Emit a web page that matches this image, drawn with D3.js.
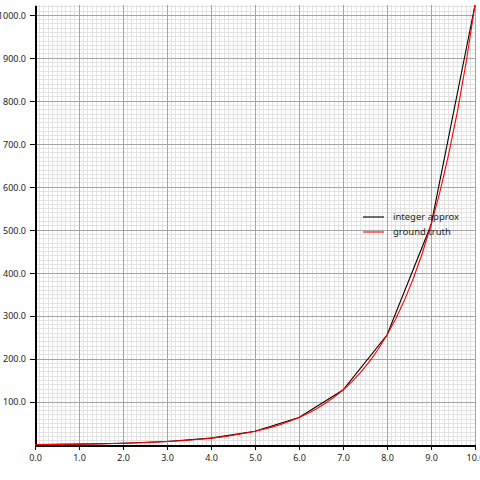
<!DOCTYPE html>
<html>
  <head>
    <title>integer approx vs ground truth</title>
    <style>
body {
  margin: 0px;
  overflow: hidden;
  background: #fff;
}
text {
  font-family: 'Noto Sans', sans-serif;
  font-size: 9px;
  fill: #222;
}
.legend text {
  font-size: 9.5px;
}
.grid-minor line {
  stroke: #e2e2e2;
  stroke-width: 1;
}
.grid-major line {
  stroke: #a4a4a4;
  stroke-width: 1;
}
.axis .domain, .axis .tick line {
  stroke: #000;
}
.axis .domain {
  stroke-width: 2;
}
.line {
  fill: none;
  stroke-width: 1.1;
}
</style>
    <script src='https://d3js.org/d3.v7.min.js'></script>
  </head>
  <body>
    <svg width="480" height="480"></svg>
    <script>

// integer approximation, one point per whole x
const intX = [0, 1, 2, 3, 4, 5, 6, 7, 8, 9, 10];
const intY = [1, 2, 4, 8, 16, 32, 64, 128, 256, 512, 1024];

// ground truth, sampled every 0.2
const truthX = [0, 0.2, 0.4, 0.6, 0.8, 1, 1.2, 1.4, 1.6, 1.8,
                2, 2.2, 2.4, 2.6, 2.8, 3, 3.2, 3.4, 3.6, 3.8,
                4, 4.2, 4.4, 4.6, 4.8, 5, 5.2, 5.4, 5.6, 5.8,
                6, 6.2, 6.4, 6.6, 6.8, 7, 7.2, 7.4, 7.6, 7.8,
                8, 8.2, 8.4, 8.6, 8.8, 9, 9.2, 9.4, 9.6, 9.8, 10];
const truthY = [1.0, 1.15, 1.32, 1.52, 1.74, 2.0, 2.30, 2.64, 3.03, 3.48,
                4.0, 4.59, 5.28, 6.06, 6.96, 8.0, 9.19, 10.56, 12.13, 13.93,
                16.0, 18.38, 21.11, 24.25, 27.86, 32.0, 36.76, 42.22, 48.50, 55.72,
                64.0, 73.52, 84.45, 97.01, 111.43, 128.0, 147.03, 168.90, 194.01, 222.86,
                256.0, 294.07, 337.79, 388.02, 445.72, 512.0, 588.13, 675.59, 776.05, 891.44, 1024.0];

const xTicks = [0, 1, 2, 3, 4, 5, 6, 7, 8, 9, 10];
const yTicks = [100, 200, 300, 400, 500, 600, 700, 800, 900, 1000];

const seriesNames = ['integer approx', 'ground truth'];
const seriesColors = ['#000000', '#ff0000'];

const svg = d3.select('svg');

const xScale = d3.scaleLinear().domain([0, 10]).range([35, 475]);
const yScale = d3.scaleLinear().domain([0, 1024]).range([445, 5]);

// minor grid every 0.1 / 10
const minorX = d3.range(0, 101).map(i => i / 10);
const minorY = d3.range(0, 103).map(i => i * 10);

const gridMinor = svg.append('g').attr('class', 'grid-minor').attr('shape-rendering', 'crispEdges');
gridMinor.selectAll('.vx').data(minorX).enter().append('line')
  .attr('x1', d => xScale(d)).attr('x2', d => xScale(d))
  .attr('y1', yScale.range()[0]).attr('y2', yScale.range()[1]);
gridMinor.selectAll('.hy').data(minorY).enter().append('line')
  .attr('x1', xScale.range()[0]).attr('x2', xScale.range()[1])
  .attr('y1', d => yScale(d)).attr('y2', d => yScale(d));

const gridMajor = svg.append('g').attr('class', 'grid-major').attr('shape-rendering', 'crispEdges');
gridMajor.selectAll('.vx').data(xTicks).enter().append('line')
  .attr('x1', d => xScale(d)).attr('x2', d => xScale(d))
  .attr('y1', yScale.range()[0]).attr('y2', yScale.range()[1]);
gridMajor.selectAll('.hy').data(yTicks).enter().append('line')
  .attr('x1', xScale.range()[0]).attr('x2', xScale.range()[1])
  .attr('y1', d => yScale(d)).attr('y2', d => yScale(d));

const fmt = d3.format('.1f');

const xAxis = d3.axisBottom(xScale).tickValues(xTicks).tickFormat(fmt)
  .tickSize(5).tickSizeOuter(0).tickPadding(5);
const yAxis = d3.axisLeft(yScale).tickValues(yTicks).tickFormat(fmt)
  .tickSize(5).tickSizeOuter(0).tickPadding(4);

const xAxisG = svg.append('g').attr('class', 'axis')
  .attr('transform', `translate(0,${yScale.range()[0]})`).call(xAxis);
const yAxisG = svg.append('g').attr('class', 'axis')
  .attr('transform', `translate(${xScale.range()[0]},0)`).call(yAxis);
svg.selectAll('.axis text').attr('font-family', null).attr('font-size', null);
svg.selectAll('.axis').attr('shape-rendering', 'crispEdges');

const line = d3.line().x(d => xScale(d[0])).y(d => yScale(d[1]));

svg.append('path')
  .attr('class', 'line')
  .attr('stroke', seriesColors[0])
  .attr('d', line(intX.map((x, i) => [x, intY[i]])));

svg.append('path')
  .attr('class', 'line')
  .attr('stroke', seriesColors[1])
  .attr('d', line(d3.zip(truthX, truthY)));

// legend
const legend = svg.selectAll('.legend').data(seriesNames).enter().append('g')
  .attr('class', 'legend')
  .attr('transform', (d, i) => `translate(363,${217 + i * 15})`);
legend.append('line')
  .attr('x1', 0).attr('x2', 21).attr('y1', 0).attr('y2', 0)
  .attr('stroke-width', 1.1)
  .attr('stroke', (d, i) => seriesColors[i]);
legend.append('text')
  .attr('x', 30).attr('y', 0).attr('dy', '0.35em')
  .text(d => d);

    </script>
  </body>
</html>
